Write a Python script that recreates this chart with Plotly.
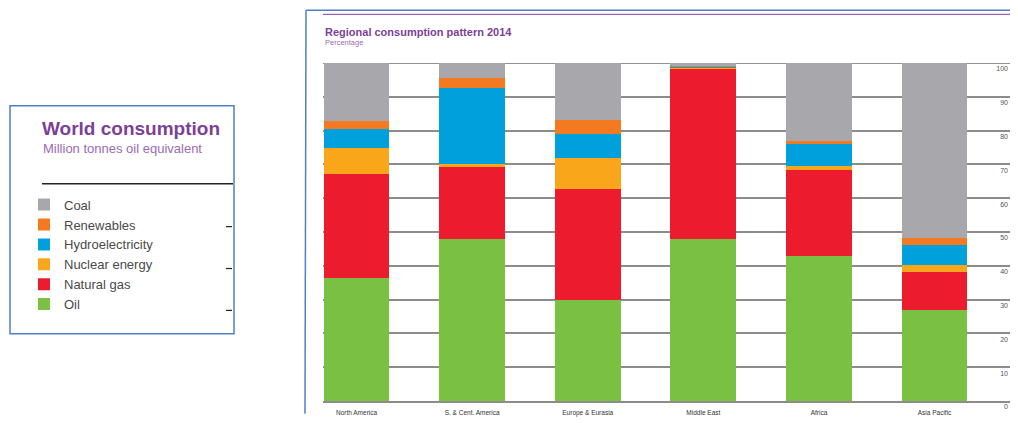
import plotly.graph_objects as go

regions = ["North America", "S. & Cent. America", "Europe & Eurasia", "Middle East", "Africa", "Asia Pacific"]
oil = [36.5, 47.8, 30.0, 47.8, 42.9, 27.0]
natural_gas = [30.6, 21.4, 32.7, 50.6, 25.5, 11.3]
nuclear = [7.9, 0.8, 9.2, 0.2, 1.1, 1.9]
hydro = [5.5, 22.5, 7.1, 0.5, 6.6, 6.1]
renewables = [2.2, 3.2, 4.2, 0.1, 0.7, 2.0]
coal = [17.3, 4.3, 16.8, 0.8, 23.2, 51.7]
y_ticks = [0, 10, 20, 30, 40, 50, 60, 70, 80, 90, 100]

series = [
    ("Oil", oil, "#7AC143"),
    ("Natural gas", natural_gas, "#EC1C2E"),
    ("Nuclear energy", nuclear, "#F9A61A"),
    ("Hydroelectricity", hydro, "#00A0DC"),
    ("Renewables", renewables, "#F37A20"),
    ("Coal", coal, "#A8A7AB"),
]

# page has an 8px body margin: the figure is placed at (8, 8) in the window
OFF = 8
FW, FH = 1018 - OFF, 423 - OFF
# plot area in window pixels
L, R, T, B = 323, 1012, 63, 410
W, H = R - L, B - T
def px(x):
    return (x - L) / W
def py(y):
    return (B - y) / H

fig = go.Figure()
for name, vals, col in series:
    fig.add_trace(go.Bar(x=regions, y=vals, name=name, marker=dict(color=col, line=dict(width=0))))

purple = "#7D3F98"
light_purple = "#9B6BB5"
blue = "#4F7FC8"

shapes = [
    # left box border
    dict(type="rect", xref="paper", yref="paper", x0=px(10), x1=px(234), y0=py(107), y1=py(341),
         line=dict(color=blue, width=1.5)),
    # line under legend title
    dict(type="line", xref="paper", yref="paper", x0=px(42), x1=px(233), y0=py(187), y1=py(187),
         line=dict(color="#222", width=1.5)),
    # right panel border
    dict(type="line", xref="paper", yref="paper", x0=px(306), x1=px(1018), y0=py(OFF + 0.8), y1=py(OFF + 0.8),
         line=dict(color=blue, width=1.5)),
    dict(type="line", xref="paper", yref="paper", x0=px(306), x1=px(305), y0=py(OFF + 0.8), y1=py(423),
         line=dict(color=blue, width=1.5)),
    # purple top rule
    dict(type="line", xref="paper", yref="paper", x0=px(323), x1=px(1018), y0=py(13), y1=py(13),
         line=dict(color="#9A62BC", width=1.2)),
    # top gridline darker
    dict(type="line", xref="paper", yref="y", x0=0, x1=1, y0=100, y1=100,
         line=dict(color="#6e6e6e", width=1.5), layer="below"),
]
for yy in [231, 274, 317]:
    shapes.append(dict(type="line", xref="paper", yref="paper", x0=px(226), x1=px(232), y0=py(yy), y1=py(yy),
                       line=dict(color="#222", width=1.2)))

annotations = [
    dict(text="<b>World consumption</b>", xref="paper", yref="paper", x=px(40), y=py(130),
         xanchor="left", yanchor="middle", showarrow=False,
         font=dict(family="Liberation Sans", size=19, color=purple)),
    dict(text="Million tonnes oil equivalent", xref="paper", yref="paper", x=px(41), y=py(151),
         xanchor="left", yanchor="middle", showarrow=False,
         font=dict(family="Liberation Sans", size=13, color=light_purple)),
    dict(text="<b>Regional consumption pattern 2014</b>", xref="paper", yref="paper", x=px(323), y=py(31),
         xanchor="left", yanchor="middle", showarrow=False,
         font=dict(family="Liberation Sans", size=11, color=purple)),
    dict(text="Percentage", xref="paper", yref="paper", x=px(323), y=py(42),
         xanchor="left", yanchor="middle", showarrow=False,
         font=dict(family="Liberation Sans", size=7.5, color=light_purple)),
]

fig.update_layout(
    width=FW, height=FH, autosize=False,
    margin=dict(l=L - OFF, r=1018 - R, t=T - OFF, b=423 - B),
    paper_bgcolor="white", plot_bgcolor="white",
    barmode="stack", bargap=0.43,
    font=dict(family="Liberation Sans", color="#444"),
    showlegend=True,
    legend=dict(x=px(24), y=py(193), xanchor="left", yanchor="top", traceorder="reversed",
                font=dict(size=13, color="#4a4a4a"), bgcolor="rgba(0,0,0,0)", tracegroupgap=0),
    shapes=shapes, annotations=annotations,
    xaxis=dict(range=[-0.29, 5.67], showgrid=False, showline=True, linecolor="#8c8c8c", linewidth=2,
               ticks="", ticklabelstandoff=4, tickfont=dict(size=6.5, color="#333"), fixedrange=True),
    yaxis=dict(range=[0, 100], tickvals=y_ticks, side="right", ticklabelposition="inside",
               ticklabeloverflow="allow",
               showgrid=True, gridcolor="#8c8c8c", gridwidth=1.5, zeroline=False, ticks="",
               ticklabelshift=6, ticklabelstandoff=1,
               tickfont=dict(size=7, color="#555"), fixedrange=True),
)

fig.write_html("out.html", config={"displayModeBar": False})
